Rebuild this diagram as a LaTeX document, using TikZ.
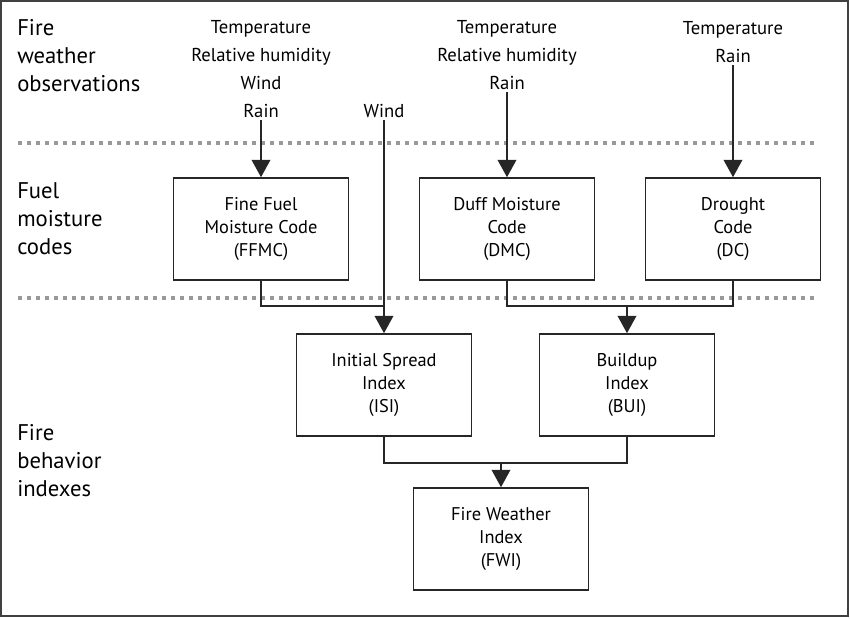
\documentclass[tikz,border=0pt]{standalone}
\usepackage{fontspec}
\setmainfont{PT Sans}
\usetikzlibrary{arrows.meta,positioning,calc}

\begin{document}
\begin{tikzpicture}[x=0.75pt,y=-0.75pt,
    box/.style={draw=black!85,line width=1.2pt,minimum width=131pt,minimum height=76.5pt,
        align=center,inner sep=0pt,font=\fontsize{13.8}{17.3}\selectfont},
    obs/.style={align=center,inner sep=2pt,anchor=base,font=\fontsize{14}{20.8}\selectfont},
    tier/.style={align=left,inner sep=0pt,anchor=base west,font=\fontsize{17}{20.8}\selectfont},
    link/.style={draw=black!85,line width=1.1pt},
    arr/.style={link,-{Triangle[length=13pt,width=14pt]}},
    sep/.style={draw=black!40,line width=3pt,dash pattern=on 3pt off 3.75pt}]

    % Cornice e area
    \useasboundingbox (0,0) rectangle (850,618);
    \draw[black!75,line width=1.2pt] (1,1) rectangle (848,616);

    % Linee di separazione
    \draw[sep] (18,143) -- (817,143);
    \draw[sep] (18,298) -- (817,298);

    % Etichette dei livelli (base = ultima riga)
    \node[tier] (tobs) at (17,91) {Fire\\weather\\observations};
    \node[tier] (tfuel) at (17,254) {Fuel\\moisture\\codes};
    \node[tier] (tidx) at (17,496) {Fire\\behavior\\indexes};

    % Osservazioni meteo
    \node[obs] (obsffmc) at (261,117) {Temperature\\Relative humidity\\Wind\\Rain};
    \node[obs] (wind) at (384,117) {Wind};
    \node[obs] (obsdmc) at (507,89) {Temperature\\Relative humidity\\Rain};
    \node[obs] (obsdc) at (733,62) {Temperature\\Rain};

    % Codici di umidita
    \node[box] (ffmc) at (261,229) {Fine Fuel\\Moisture Code\\(FFMC)};
    \node[box] (dmc) at (507,229) {Duff Moisture\\Code\\(DMC)};
    \node[box] (dc) at (733,229) {Drought\\Code\\(DC)};

    % Indici
    \node[box] (isi) at (384,385) {Initial Spread\\Index\\(ISI)};
    \node[box] (bui) at (627,385) {Buildup\\Index\\(BUI)};
    \node[box] (fwi) at (501,539) {Fire Weather\\Index\\(FWI)};

    % Collegamenti
    \draw[arr] (obsffmc) -- (ffmc);
    \draw[arr] (obsdmc) -- (dmc);
    \draw[arr] (obsdc) -- (dc);
    \draw[arr] (wind) -- (isi);

    \coordinate (ffmcjoin) at ($(ffmc.south)+(0,25)$);
    \draw[link] (ffmc.south) -- (ffmcjoin) -- (ffmcjoin -| wind);

    \coordinate (buijoin) at ($(dmc.south)+(0,25)$);
    \draw[link] (dmc.south) -- (buijoin) -| (dc.south);
    \draw[arr] (buijoin -| bui) -- (bui);

    \coordinate (fwijoin) at ($(isi.south)+(0,26)$);
    \draw[link] (isi.south) -- (fwijoin) -| (bui.south);
    \draw[arr] (fwijoin -| fwi) -- (fwi);
\end{tikzpicture}
\end{document}
